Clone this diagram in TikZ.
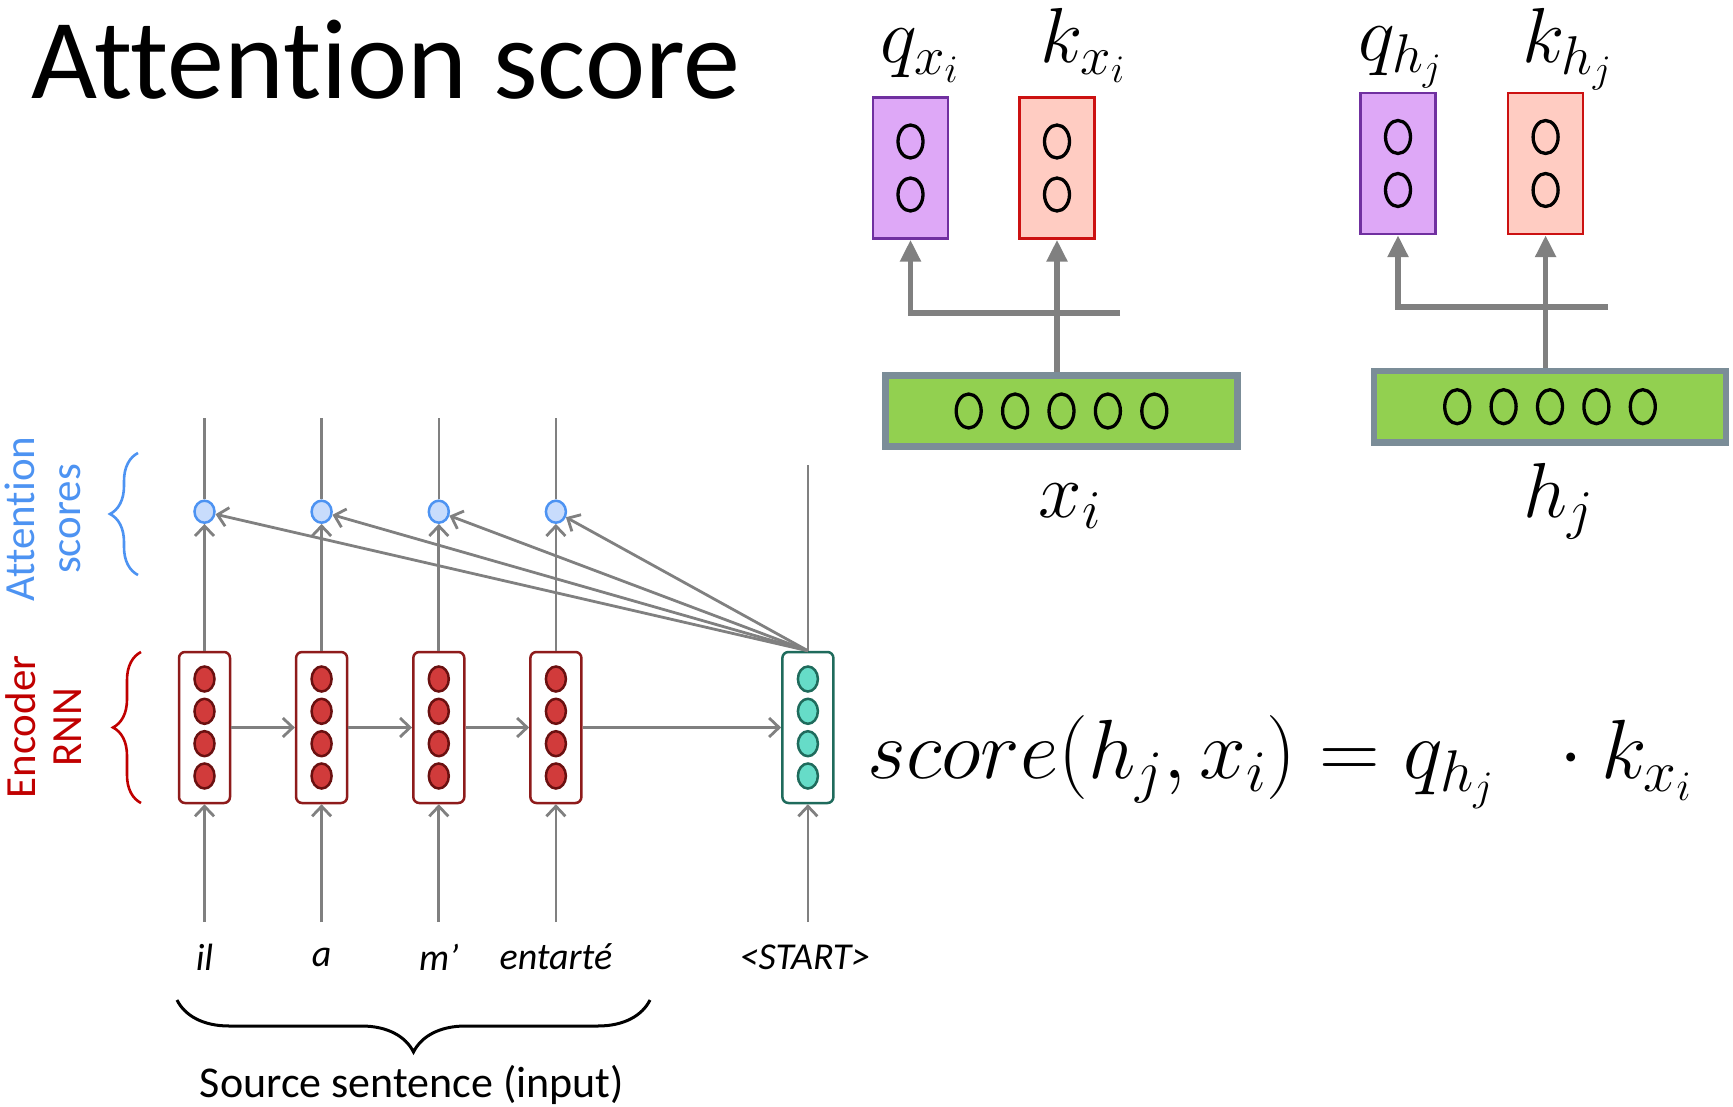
\RequirePackage{fix-cm}
\documentclass[tikz,border=0pt]{standalone}
\usepackage{fontspec}
\setmainfont{Carlito}[Ligatures=NoCommon]
\usepackage{tikz}
\usetikzlibrary{arrows.meta,calc,decorations.pathreplacing,positioning,shapes.geometric}
\definecolor{encred}{HTML}{8E1B1B}
\definecolor{dotred}{HTML}{D13B3B}
\definecolor{dotdark}{HTML}{6A1010}
\definecolor{teal}{HTML}{1F6B5C}
\definecolor{tealdot}{HTML}{66DCC8}
\definecolor{attblue}{HTML}{4D93F2}
\definecolor{attfill}{HTML}{C8DCFC}
\definecolor{rnnred}{HTML}{C00000}
\definecolor{linegray}{HTML}{808080}
\definecolor{boxgreen}{HTML}{92D050}
\definecolor{slate}{HTML}{7B8D98}
\definecolor{qfill}{HTML}{DEA8F7}
\definecolor{qline}{HTML}{7030A0}
\definecolor{kfill}{HTML}{FFCCC2}
\definecolor{kline}{HTML}{CC1111}

\begin{document}
\begin{tikzpicture}[x=1pt,y=-1pt,
  encbox/.style={draw=encred,line width=2.5pt,fill=white,rounded corners=6pt,minimum width=51pt,minimum height=151pt,inner sep=0pt},
  startbox/.style={encbox,draw=teal},
  encdot/.style={ellipse,draw=dotdark,line width=2.5pt,fill=dotred,minimum width=20pt,minimum height=25pt,inner sep=0pt},
  startdot/.style={encdot,draw=teal,fill=tealdot},
  scoredot/.style={ellipse,draw=attblue,line width=2.5pt,fill=attfill,minimum width=20pt,minimum height=22pt,inner sep=0pt},
  arr/.style={draw=linegray,line width=2.8pt,-{Straight Barb[length=10pt,width=19pt]}},
  plain/.style={draw=linegray,line width=2.6pt},
  fat/.style={draw=linegray,line width=5.5pt},
  fatarr/.style={fat,-{Triangle[length=22pt,width=20pt]}},
  vecbox/.style={draw=#1,line width=2.5pt,minimum width=75pt,minimum height=141pt,inner sep=0pt},
  inbox/.style={draw=slate,line width=6.6pt,fill=boxgreen,minimum width=352pt,minimum height=71pt,inner sep=0pt},
  ring/.style={line width=3.3pt},
  mlab/.style={font=\fontsize{78}{88}\selectfont,inner sep=0pt,anchor=base},
  word/.style={font=\fontsize{38}{44}\selectfont\itshape},
  side/.style={rotate=90,align=center,font=\fontsize{43}{46}\selectfont},
  brc/.style={decorate,decoration={brace,amplitude=#1}}
]
\useasboundingbox (0,0) rectangle (1733,1107);
\node[anchor=base west,inner sep=0pt,font=\fontsize{114}{120}\selectfont] (title) at (31,99) {Attention score};

% encoder and scores
\foreach \n/\x/\w in {1/204.5/il,2/321.6/a,3/438.8/m’,4/555.9/entarté}{
  \node[encbox] (e\n) at (\x,727.5) {};
  \foreach \d [count=\k] in {-48.5,-16.2,16.2,48.5} \node[encdot] (e\n d\k) at ($(e\n)+(0,\d)$) {};
  \node[scoredot] (a\n) at (\x,511.7) {};
  \coordinate (t\n) at (\x,418);
  \coordinate (i\n) at (\x,922);
  \node[word] (w\n) at (\x,957) {\w};
  \draw[arr] (i\n) -- (e\n.south);
  \draw[arr] (e\n.north) -- (a\n.south);
  \draw[plain] (a\n.north) -- (t\n);
}
\node[startbox] (s) at (807.9,727.5) {};
\foreach \d [count=\k] in {-48.5,-16.2,16.2,48.5} \node[startdot] (sd\k) at ($(s)+(0,\d)$) {};
\coordinate (si) at (807.9,922);
\coordinate (st) at (807.9,465);
\node[word] (ws) at (805,957) {<START>};
\draw[arr] (si) -- (s.south);
\draw[plain] (s.north) -- (st);
\draw[arr] (e1.east) -- (e2.west);
\draw[arr] (e2.east) -- (e3.west);
\draw[arr] (e3.east) -- (e4.west);
\draw[arr] (e4.east) -- (s.west);
\foreach \n in {1,...,4} \draw[arr] (s.north) -- (a\n);

% braces and side labels
\coordinate (ab1) at (138,575); \coordinate (ab2) at (138,453);
\coordinate (rb1) at (141,803); \coordinate (rb2) at (141,652);
\draw[brc=28pt,attblue,line width=2.6pt] (ab1) -- (ab2);
\draw[brc=28pt,rnnred,line width=2.6pt] (rb1) -- (rb2);
\node[side,text=attblue] (attl) at (43,519) {Attention\\scores};
\node[side,text=rnnred] (encl) at (44,727) {Encoder\\RNN};
\coordinate (bl) at (177,1000); \coordinate (br) at (650,1000);
\draw[brc=52pt,line width=3pt] (br) -- (bl);
\node[font=\fontsize{44}{48}\selectfont] (src) at (412,1085) {Source sentence (input)};

% query / key projections
\node[inbox] (xb) at (1061.5,411) {};
\node[inbox] (hb) at (1550,406.7) {};
\node[vecbox=qline,fill=qfill] (qx) at (910.5,168) {};
\node[vecbox=kline,fill=kfill] (kx) at (1057,168) {};
\node[vecbox=qline,fill=qfill] (qh) at (1398,163.5) {};
\node[vecbox=kline,fill=kfill] (kh) at (1545.6,163.5) {};
\foreach \b in {qx,kx,qh,kh} \foreach \d in {-26.5,26.5} \draw[ring] ($(\b)+(0,\d)$) ellipse (12.5 and 16.5);
\foreach \b in {xb,hb} \foreach \k in {-2,...,2} \draw[ring] ($(\b)+(\k*46.4,0)$) ellipse (12.5 and 17);
\coordinate (xl) at (910.5,313); \coordinate (xr) at (1120,313);
\coordinate (hl) at (1398,307); \coordinate (hr) at (1608,307);
\draw[fatarr] (xr) -- (xl) -- (qx.south);
\draw[fatarr] (kx |- xb.north) -- (kx.south);
\draw[fatarr] (hr) -- (hl) -- (qh.south);
\draw[fatarr] (kh |- hb.north) -- (kh.south);
\node[mlab] (lqx) at (919.5,63) {$q_{x_i}$};
\node[mlab] (lkx) at (1083,63) {$k_{x_i}$};
\node[mlab] (lqh) at (1400,61) {$q_{h_j}$};
\node[mlab] (lkh) at (1567,63) {$k_{h_j}$};
\node[mlab] (lx) at (1070,517) {$x_i$};
\node[mlab] (lh) at (1558,517) {$h_j$};
\node[font=\fontsize{84}{90}\selectfont,inner sep=0pt] (eq) at (1279.5,762) {$score(h_j,x_i)=q_{h_j}\;\;\cdot k_{x_i}$};
\end{tikzpicture}
\end{document}
